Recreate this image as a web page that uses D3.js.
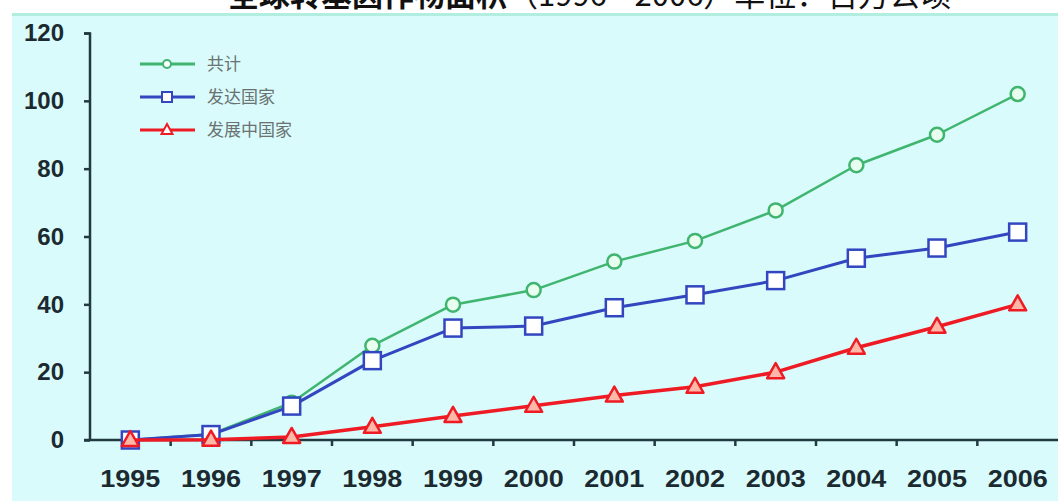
<!DOCTYPE html>
<html>
<head>
<meta charset="utf-8">
<script src="https://cdn.jsdelivr.net/npm/d3@7"></script>
<style>
  html, body { margin: 0; padding: 0; background: #ffffff; }
  svg { display: block; }
</style>
</head>
<body>
<svg id="chart" width="1058" height="501"></svg>
<script>
// Global GM crop area, million hectares
const years = ["1995","1996","1997","1998","1999","2000","2001","2002","2003","2004","2005","2006"];
const total      = [0, 1.7, 11.0, 27.8, 39.9, 44.2, 52.6, 58.7, 67.7, 81.0, 90.0, 102.0];
const developed  = [0, 1.6, 10.0, 23.4, 33.0, 33.6, 39.0, 42.8, 47.0, 53.6, 56.6, 61.3];
const developing = [0, 0.1, 0.9, 3.9, 7.1, 10.1, 13.1, 15.7, 20.0, 27.2, 33.4, 40.0];
const yTicks = [0, 20, 40, 60, 80, 100, 120];
const seriesNames = ["共计", "发达国家", "发展中国家"];

const svg = d3.select("#chart");
const W = 1058, H = 501;

// panel background
svg.append("rect").attr("x", 12).attr("y", 14).attr("width", W - 12).attr("height", H - 14)
  .attr("fill", "#d9fbfb");
svg.append("rect").attr("x", 12).attr("y", 13).attr("width", W - 12).attr("height", 3)
  .attr("fill", "#b2eedf");

// title, sitting at the very top edge of the page
const title = svg.append("text").attr("x", 228).attr("y", 6)
  .attr("font-family", "'Noto Sans CJK SC', sans-serif").attr("font-size", 31)
  .attr("fill", "#111");
title.append("tspan").attr("font-weight", "bold").text("全球转基因作物面积");
title.append("tspan").attr("font-weight", "normal").text("（1996—2006）单位：百万公顷");

const x = d3.scaleBand().domain(years).range([90, 1058]);
const y = d3.scaleLinear().domain([0, 120]).range([440, 33]);
const axisColor = "#213a42";
const labelFont = "'Liberation Sans', Arial, sans-serif";

// y axis
const yAxis = svg.append("g").attr("transform", "translate(90,0)")
  .call(d3.axisLeft(y).tickValues(yTicks).tickSize(6).tickPadding(20));
yAxis.select(".domain").attr("stroke", axisColor).attr("stroke-width", 2.5).attr("d", "M-6,33.5H0V440");
yAxis.selectAll(".tick line").attr("stroke", axisColor).attr("stroke-width", 2.5);
yAxis.selectAll(".tick text").attr("fill", "#1b2a30").attr("font-size", 24)
  .attr("font-weight", "bold").attr("font-family", labelFont);

// x axis: ticks on band boundaries
const xAxis = svg.append("g").attr("transform", "translate(0,440)");
xAxis.append("line").attr("x1", 84).attr("x2", W).attr("y1", 0).attr("y2", 0)
  .attr("stroke", axisColor).attr("stroke-width", 2.5);
xAxis.selectAll("line.tk").data(years.slice(1)).enter().append("line").attr("class", "tk")
  .attr("x1", d => x(d)).attr("x2", d => x(d)).attr("y1", 0).attr("y2", 6)
  .attr("stroke", axisColor).attr("stroke-width", 2.5);
xAxis.selectAll("text").data(years).enter().append("text")
  .attr("x", d => x(d) + x.bandwidth() / 2).attr("y", 47)
  .attr("text-anchor", "middle").attr("fill", "#1b2a30").attr("font-size", 24)
  .attr("font-weight", "bold").attr("font-family", labelFont)
  .attr("textLength", 60).attr("lengthAdjust", "spacingAndGlyphs")
  .text(d => d);

const cx = d => x(d) + x.bandwidth() / 2;
const line = d3.line().x((v, i) => cx(years[i])).y(v => y(v));

const series = [
  { name: seriesNames[0], values: total, color: "#3fb56f", width: 2.5, marker: "circle", fill: "#e8fff0" },
  { name: seriesNames[1], values: developed, color: "#3246c0", width: 3, marker: "square", fill: "#ffffff" },
  { name: seriesNames[2], values: developing, color: "#ee1b24", width: 3.5, marker: "triangle", fill: "#ffb8a8" }
];

function drawMarker(g, type, px, py, s) {
  if (type === "circle") {
    g.append("circle").attr("cx", px).attr("cy", py).attr("r", 7)
      .attr("fill", s.fill).attr("stroke", s.color).attr("stroke-width", 2.5);
  } else if (type === "square") {
    g.append("rect").attr("x", px - 8.5).attr("y", py - 8.5).attr("width", 17).attr("height", 17)
      .attr("fill", s.fill).attr("stroke", s.color).attr("stroke-width", 2.5);
  } else {
    g.append("path").attr("d", `M${px},${py - 9}L${px + 8.5},${py + 6}L${px - 8.5},${py + 6}Z`)
      .attr("fill", s.fill).attr("stroke", s.color).attr("stroke-width", 2.5)
      .attr("stroke-linejoin", "round");
  }
}

series.forEach(s => {
  const g = svg.append("g");
  g.append("path").attr("d", line(s.values)).attr("fill", "none")
    .attr("stroke", s.color).attr("stroke-width", s.width).attr("stroke-linejoin", "round");
  s.values.forEach((v, i) => drawMarker(g, s.marker, cx(years[i]), y(v), s));
});

// legend
const legend = svg.append("g");
series.forEach((s, i) => {
  const ly = 64 + i * 33;
  const lg = legend.append("g");
  lg.append("line").attr("x1", 140).attr("x2", 195).attr("y1", ly).attr("y2", ly)
    .attr("stroke", s.color).attr("stroke-width", 3);
  if (s.marker === "circle") {
    lg.append("circle").attr("cx", 167).attr("cy", ly).attr("r", 4)
      .attr("fill", "#ffffff").attr("stroke", s.color).attr("stroke-width", 2);
  } else if (s.marker === "square") {
    lg.append("rect").attr("x", 162).attr("y", ly - 5).attr("width", 10).attr("height", 10)
      .attr("fill", "#ffffff").attr("stroke", s.color).attr("stroke-width", 2);
  } else {
    lg.append("path").attr("d", `M167,${ly - 6}L172.5,${ly + 4}L161.5,${ly + 4}Z`)
      .attr("fill", "#ffffff").attr("stroke", s.color).attr("stroke-width", 2);
  }
  lg.append("text").attr("x", 207).attr("y", ly + 6)
    .attr("font-family", "'Noto Sans CJK SC', sans-serif").attr("font-size", 17)
    .attr("fill", "#6a7272").text(s.name);
});
</script>
</body>
</html>
